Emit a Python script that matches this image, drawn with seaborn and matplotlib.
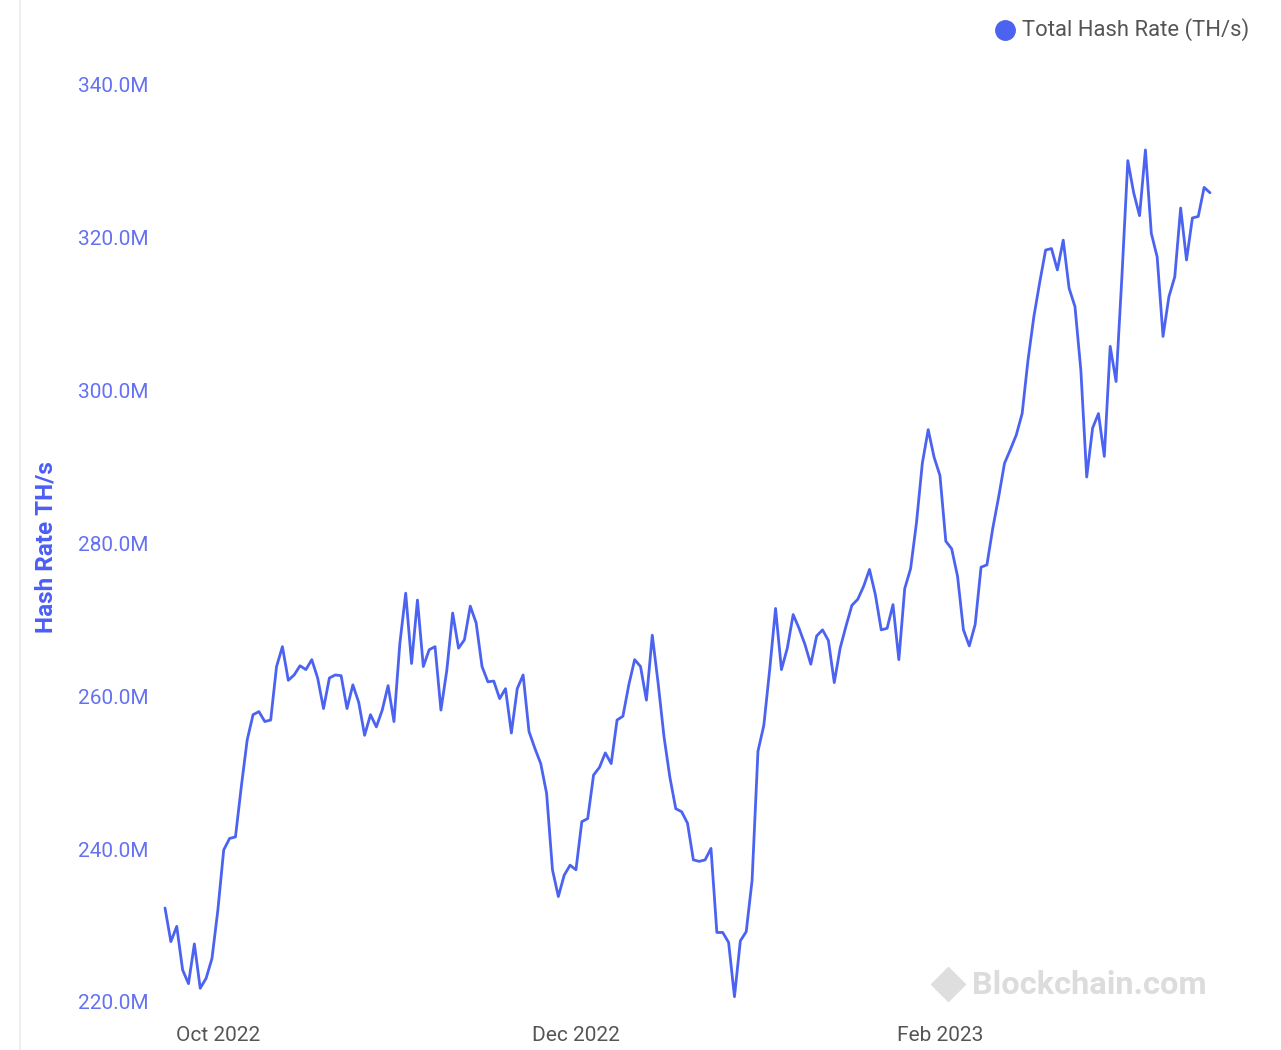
import matplotlib
matplotlib.use("Agg")
import matplotlib.pyplot as plt
import matplotlib.ticker as mticker
import matplotlib.dates as mdates
from matplotlib.lines import Line2D
import numpy as np
import pandas as pd
import seaborn as sns

# Daily total network hash rate, millions of TH/s, starting 22 Sep 2022
start_date = "2022-09-22"
hash_rate_m = [
    232.3, 227.9, 229.9, 224.2, 222.4, 227.6, 221.8, 223.1, 225.7, 232.0,
    239.9, 241.4, 241.6, 248.2, 254.3, 257.6, 258.0, 256.7, 256.9, 263.9,
    266.5, 262.1, 262.8, 264.0, 263.5, 264.8, 262.4, 258.4, 262.4, 262.8,
    262.7, 258.4, 261.5, 259.2, 254.9, 257.6, 256.0, 258.2, 261.4, 256.7,
    266.9, 273.5, 264.3, 272.6, 263.9, 266.1, 266.5, 258.2, 263.4, 270.9,
    266.3, 267.4, 271.8, 269.6, 263.9, 261.9, 262.0, 259.7, 261.0, 255.2,
    261.0, 262.8, 255.4, 253.2, 251.2, 247.3, 237.3, 233.8, 236.6, 237.9,
    237.3, 243.6, 244.0, 249.7, 250.7, 252.6, 251.2, 256.9, 257.4, 261.5,
    264.8, 263.9, 259.5, 268.0, 261.7, 254.7, 249.4, 245.3, 244.9, 243.4,
    238.6, 238.4, 238.6, 240.1, 229.1, 229.1, 227.8, 220.7, 228.0, 229.2,
    235.9, 252.8, 256.2, 263.5, 271.5, 263.5, 266.3, 270.7, 268.9, 266.8,
    264.2, 267.9, 268.7, 267.3, 261.8, 266.3, 269.2, 271.9, 272.7, 274.4,
    276.6, 273.3, 268.7, 268.9, 272.0, 264.8, 274.1, 276.7, 282.7, 290.5,
    294.9, 291.3, 288.9, 280.3, 279.3, 275.7, 268.7, 266.6, 269.4, 276.9,
    277.2, 282.0, 286.1, 290.5, 292.3, 294.2, 297.0, 304.0, 309.7, 314.2,
    318.4, 318.6, 315.8, 319.7, 313.4, 311.0, 302.7, 288.7, 295.1, 297.0,
    291.4, 305.8, 301.2, 315.0, 330.1, 325.9, 322.9, 331.5, 320.6, 317.5,
    307.1, 312.3, 314.9, 323.9, 317.1, 322.6, 322.8, 326.6, 325.9,
]
y_ticks = [220, 240, 260, 280, 300, 320, 340]
x_tick_dates = ["2022-10-01", "2022-12-01", "2023-02-01"]
series_name = "Total Hash Rate (TH/s)"

df = pd.DataFrame({
    "date": pd.date_range(start_date, periods=len(hash_rate_m), freq="D"),
    "hash_rate": hash_rate_m,
})

sns.set_style("white")
plt.rcParams["font.family"] = ["Roboto", "DejaVu Sans"]

LINE_BLUE = "#4b63f0"
TICK_BLUE = "#6472f2"
LABEL_BLUE = "#4b5ef5"
GREY_TEXT = "#555555"

W, H = 1281, 1050
fig = plt.figure(figsize=(W / 100, H / 100), dpi=100)
fig.patch.set_facecolor("white")

# plot area in pixel terms: first/last day at x=165/1210, 220M/340M at y=1002/85
left_px, right_px, top_px, bottom_px = 165, 1210, 85, 1002
ax = fig.add_axes([left_px / W, (H - bottom_px) / H,
                   (right_px - left_px) / W, (bottom_px - top_px) / H])

sns.lineplot(data=df, x="date", y="hash_rate", ax=ax, color=LINE_BLUE,
             linewidth=2.0, legend=False)

ax.set_xlim(df["date"].iloc[0], df["date"].iloc[-1])
ax.set_ylim(y_ticks[0], y_ticks[-1])
for line in ax.lines:
    line.set_clip_on(False)

ax.set_yticks(y_ticks)
ax.yaxis.set_major_formatter(mticker.FuncFormatter(lambda v, p: f"{v:.1f}M"))
ax.set_xticks(pd.to_datetime(x_tick_dates))
ax.xaxis.set_major_formatter(mdates.DateFormatter("%b %Y"))

ax.tick_params(axis="y", length=0, pad=12, labelsize=15, labelcolor=TICK_BLUE)
ax.tick_params(axis="x", length=0, pad=17, labelsize=15, labelcolor=GREY_TEXT)
for s in ax.spines.values():
    s.set_visible(False)
ax.grid(False)
ax.set_xlabel("")
ax.set_ylabel("")

# y-axis title
fig.text(46 / W, 1 - 547 / H, "Hash Rate TH/s", rotation=90, ha="center",
         va="center", fontsize=17.5, fontweight="bold", color=LABEL_BLUE)

# thin frame line on the left edge
fig.add_artist(Line2D([20 / W, 20 / W], [0, 1], color="#eeeeee", linewidth=1.5))

# legend entry top right
fig.add_artist(Line2D([1005 / W], [1 - 30 / H], marker="o", markersize=14,
                      color=LINE_BLUE, markeredgecolor=LINE_BLUE, linestyle="none"))
fig.text(1022 / W, 1 - 30 / H, series_name, ha="left", va="center",
         fontsize=15.8, color=GREY_TEXT)

# watermark
fig.add_artist(Line2D([948 / W], [1 - 984 / H], marker="D", markersize=17,
                      color="#dedede", markeredgecolor="#dedede", linestyle="none"))
fig.text(972 / W, 1 - 985 / H, "Blockchain.com", ha="left", va="center",
         fontsize=23.4, fontweight="bold", color="#dcdcdc")

fig.savefig("out.png", dpi=100, facecolor="white")
